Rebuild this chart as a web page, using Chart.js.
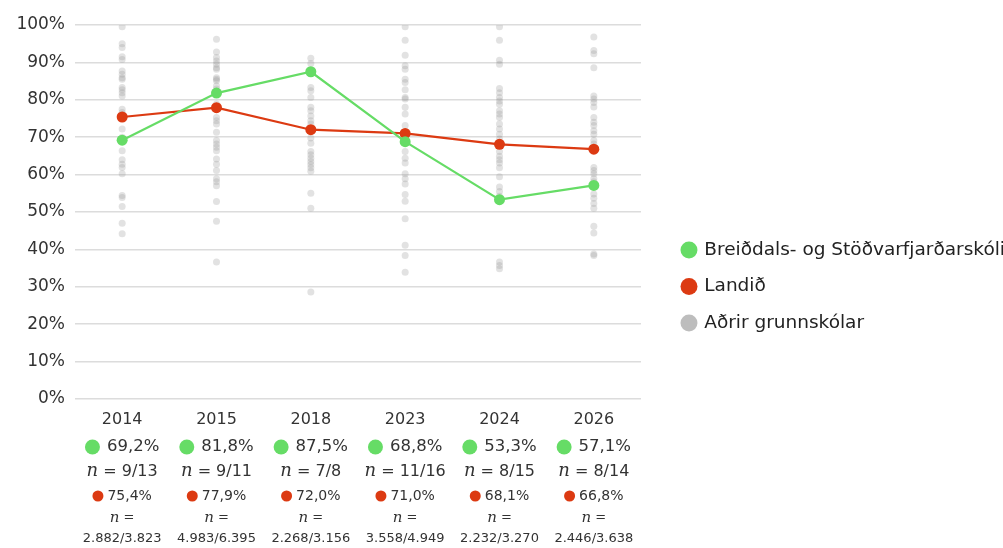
<!DOCTYPE html>
<html>
<head>
<meta charset="utf-8">
<script src="https://cdn.jsdelivr.net/npm/chart.js@4/dist/chart.umd.min.js"></script>
<style>
  html, body { margin: 0; padding: 0; background: #fff; }
  #wrap { width: 1003px; height: 548px; position: relative; }
</style>
</head>
<body>
<div id="wrap"><canvas id="chart"></canvas></div>
<script>
const years = ["2014", "2015", "2018", "2023", "2024", "2026"];
const yTicks = [0, 10, 20, 30, 40, 50, 60, 70, 80, 90, 100];

const schoolName = "Breiðdals- og Stöðvarfjarðarskóli";
const schoolValues = [69.2, 81.8, 87.5, 68.8, 53.3, 57.1];
const schoolCounts = ["9/13", "9/11", "7/8", "11/16", "8/15", "8/14"];

const nationalName = "Landið";
const nationalValues = [75.4, 77.9, 72.0, 71.0, 68.1, 66.8];
const nationalCounts = ["2.882/3.823", "4.983/6.395", "2.268/3.156", "3.558/4.949", "2.232/3.270", "2.446/3.638"];

const otherName = "Aðrir grunnskólar";
const other2014 = [99.5, 95, 94, 91.5, 90.8, 87.7, 86.8, 85.9, 85.5, 83.3, 82.7, 81.9, 81, 77.5, 76.6, 72.2, 70, 66.4, 64, 62.8, 61.9, 60.2, 54.4, 53.9, 51.5, 47, 44.2];
const other2015 = [96.2, 92.8, 91.3, 90.4, 89.5, 88.6, 88.2, 85.9, 85.5, 85.1, 83.7, 82.9, 78.9, 75.3, 74.4, 73.5, 71.3, 69.1, 68.2, 67.3, 66.4, 64.2, 62.8, 61.1, 58.9, 58.1, 57, 52.8, 47.5, 36.6];
const other2018 = [91.1, 89.7, 83.3, 82.4, 80.6, 78, 77.1, 75.7, 74.4, 73.5, 69.8, 68.4, 66.2, 65.3, 64.4, 63.5, 62.7, 61.8, 60.9, 55, 51, 28.6];
const other2023 = [99.5, 95.9, 91.9, 89.1, 88.2, 85.5, 84.6, 82.7, 80.6, 80.2, 78, 76.2, 73.1, 66.2, 64.4, 63.1, 60.2, 58.9, 57.5, 54.7, 52.9, 48.2, 41.1, 38.4, 33.9];
const other2024 = [99.5, 95.9, 90.6, 89.5, 83, 81.9, 80.6, 79.7, 78.8, 77.1, 76.2, 75.3, 73.5, 72.2, 70.8, 69.5, 66.2, 64.9, 64, 63.1, 61.8, 59.4, 56.7, 55.5, 54.2, 36.6, 35.7, 34.8];
const other2026 = [96.8, 93.2, 92.3, 88.6, 81, 80.2, 79.3, 78.1, 75.3, 74, 73.1, 71.7, 70.8, 69.1, 68.2, 61.9, 61.1, 60.2, 58.9, 58.1, 54.8, 53.7, 52.3, 51, 46.2, 44.4, 38.8, 38.4];
const otherValues = [other2014, other2015, other2018, other2023, other2024, other2026];

const green = "#66dc66";
const red = "#dc3a12";
const grayDot = "rgba(150, 150, 150, 0.28)";
const grayLegend = "#bdbdbd";
const textColor = "#333";
const fontFamily = "'DejaVu Sans', sans-serif";
const nFont = "'DejaVu Serif', serif";

function pct(v) {
    return v.toFixed(1).replace(".", ",") + "%";
}

const otherPoints = [];
otherValues.forEach((list, i) => {
    list.forEach(v => otherPoints.push({ x: years[i], y: v }));
});

// push the legend a bit further right of the plot
const legendShift = {
    id: "legendShift",
    afterLayout(chart) {
        chart.legend.left += 24;
        chart.legend.right += 24;
    }
};

// draws the per-year summary lines under the x axis
const bottomLabels = {
    id: "bottomLabels",
    afterDraw(chart) {
        const ctx = chart.ctx;
        const xScale = chart.scales.x;
        ctx.save();
        ctx.textBaseline = "middle";
        ctx.fillStyle = textColor;
        years.forEach((yr, i) => {
            const cx = xScale.getPixelForValue(i);

            // school value with green dot
            ctx.font = "16.5px " + fontFamily;
            let txt = pct(schoolValues[i]);
            let tw = ctx.measureText(txt).width;
            let total = 15 + 7 + tw;
            let left = cx - total / 2;
            ctx.fillStyle = green;
            ctx.beginPath();
            ctx.arc(left + 7.5, 447, 7.5, 0, Math.PI * 2);
            ctx.fill();
            ctx.fillStyle = textColor;
            ctx.textAlign = "left";
            ctx.fillText(txt, left + 22, 447);

            // n = school count
            ctx.font = "italic 18px " + nFont;
            const nW = ctx.measureText("n").width;
            ctx.font = "16px " + fontFamily;
            const rest = " = " + schoolCounts[i];
            const rW = ctx.measureText(rest).width;
            left = cx - (nW + rW) / 2;
            ctx.font = "italic 18px " + nFont;
            ctx.fillText("n", left, 471);
            ctx.font = "16px " + fontFamily;
            ctx.fillText(rest, left + nW, 472);

            // national value with red dot
            ctx.font = "14px " + fontFamily;
            txt = pct(nationalValues[i]);
            tw = ctx.measureText(txt).width;
            total = 11 + 4 + tw;
            left = cx - total / 2;
            ctx.fillStyle = red;
            ctx.beginPath();
            ctx.arc(left + 5.5, 496, 5.5, 0, Math.PI * 2);
            ctx.fill();
            ctx.fillStyle = textColor;
            ctx.fillText(txt, left + 15, 496);

            // n = national count
            ctx.font = "italic 15px " + nFont;
            const nW2 = ctx.measureText("n").width;
            ctx.font = "13px " + fontFamily;
            const eqW = ctx.measureText(" =").width;
            left = cx - (nW2 + eqW) / 2;
            ctx.font = "italic 15px " + nFont;
            ctx.fillText("n", left, 518);
            ctx.font = "13px " + fontFamily;
            ctx.fillText(" =", left + nW2, 518);

            ctx.textAlign = "center";
            ctx.fillText(nationalCounts[i], cx, 539);
        });
        ctx.restore();
    }
};

new Chart(document.getElementById("chart"), {
    type: "line",
    data: {
        labels: years,
        datasets: [
            {
                label: schoolName,
                data: schoolValues,
                borderColor: green,
                backgroundColor: green,
                borderWidth: 2.2,
                pointRadius: 5.5,
                pointBorderWidth: 0,
                tension: 0,
                order: 0
            },
            {
                label: nationalName,
                data: nationalValues,
                borderColor: red,
                backgroundColor: red,
                borderWidth: 2.2,
                pointRadius: 5.5,
                pointBorderWidth: 0,
                tension: 0,
                order: 1
            },
            {
                label: otherName,
                data: otherPoints,
                showLine: false,
                backgroundColor: grayDot,
                borderColor: grayDot,
                pointRadius: 3.5,
                pointBorderWidth: 0,
                order: 2
            }
        ]
    },
    options: {
        responsive: true,
        maintainAspectRatio: false,
        animation: false,
        events: [],
        layout: {
            padding: { top: 25, left: 10, right: 12, bottom: 0 }
        },
        plugins: {
            tooltip: { enabled: false },
            legend: {
                position: "right",
                maxWidth: 400,
                labels: {
                    usePointStyle: true,
                    pointStyle: "circle",
                    boxWidth: 12,
                    boxHeight: 12,
                    padding: 18,
                    color: "#222",
                    font: { family: fontFamily, size: 18.5 },
                    generateLabels(chart) {
                        const colors = [green, red, grayLegend];
                        return Chart.defaults.plugins.legend.labels.generateLabels(chart).map((item, i) => {
                            item.fillStyle = colors[i];
                            item.strokeStyle = colors[i];
                            item.lineWidth = 0;
                            return item;
                        });
                    }
                }
            }
        },
        scales: {
            x: {
                type: "category",
                offset: true,
                grid: { display: false, drawTicks: false },
                border: { display: false },
                ticks: {
                    color: textColor,
                    padding: 11,
                    font: { family: fontFamily, size: 16 }
                },
                afterFit(scale) { scale.height = 149; }
            },
            y: {
                min: 0,
                max: 100,
                afterBuildTicks(scale) {
                    scale.ticks = yTicks.map(v => ({ value: v }));
                },
                grid: { color: "#dcdcdc", lineWidth: 1.5, drawTicks: false },
                border: { display: false },
                ticks: {
                    color: textColor,
                    padding: 10,
                    font: { family: fontFamily, size: 17 },
                    callback: v => v + "%"
                },
                afterFit(scale) { scale.width = 65; }
            }
        }
    },
    plugins: [legendShift, bottomLabels]
});
</script>
</body>
</html>
